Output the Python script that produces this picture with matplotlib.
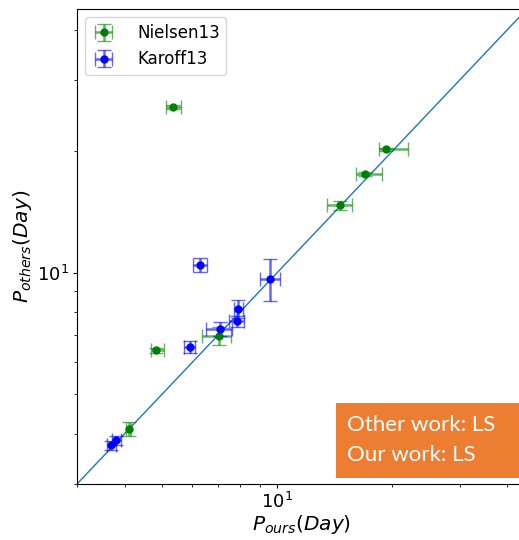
from matplotlib import pyplot as plt
from matplotlib.patches import Rectangle

import numpy as np

# Periods (days): ours vs others, with error bars
nielsen_ours = [5.34, 19.3, 17.0, 14.6, 4.84, 7.05, 4.10]
nielsen_ours_lo = [0.22, 0.8, 0.9, 1.1, 0.15, 0.67, 0.06]
nielsen_ours_hi = [0.26, 2.7, 1.8, 1.1, 0.22, 0.53, 0.06]
nielsen_others = [25.8, 20.2, 17.6, 14.7, 6.43, 6.99, 4.11]
nielsen_others_err = [0.3, 0.2, 0.2, 0.4, 0.1, 0.37, 0.16]

karoff_ours = [6.30, 9.60, 7.92, 7.85, 7.08, 5.91, 3.80, 3.69]
karoff_ours_err = [0.26, 0.6, 0.22, 0.35, 0.55, 0.2, 0.1, 0.1]
karoff_others = [10.47, 9.66, 8.15, 7.58, 7.26, 6.55, 3.85, 3.74]
karoff_others_err = [0.4, 1.15, 0.4, 0.25, 0.3, 0.23, 0.1, 0.1]

lims = [3, 45]
box_text = "Other work: LS\nOur work: LS"

fig = plt.figure(figsize=(5.19, 5.40), dpi=100)
ax = fig.add_axes([77 / 519, 56 / 540, 450 / 519, 475 / 540])

# one-to-one line
ax.plot(lims, lims, color='C0', lw=1)

ax.errorbar(nielsen_ours, nielsen_others,
            xerr=[nielsen_ours_lo, nielsen_ours_hi], yerr=nielsen_others_err,
            fmt='o', color='green', ms=5, ecolor=(0, 0.5, 0, 0.6),
            elinewidth=1.8, capsize=5, label='Nielsen13')
ax.errorbar(karoff_ours, karoff_others,
            xerr=karoff_ours_err, yerr=karoff_others_err,
            fmt='o', color='blue', ms=5, ecolor=(0, 0, 1, 0.6),
            elinewidth=1.8, capsize=5, label='Karoff13')

ax.set_xscale('log'); ax.set_yscale('log')
ax.set_xlim(lims); ax.set_ylim(lims)
ax.tick_params(which='major', labelsize=13, length=3, pad=3)
ax.tick_params(which='minor', length=2)
ax.set_xlabel('$P_{ours}(Day)$', fontsize=14.5, labelpad=0.5)
ax.set_ylabel('$P_{others}(Day)$', fontsize=14.5, labelpad=2)
ax.legend(loc='upper left', fontsize=12, handlelength=1.4, handletextpad=1.3)

# annotation box on top of the axes
fig.patches.append(Rectangle((336 / 519, 62 / 540), 0.4, 75 / 540,
                             transform=fig.transFigure, facecolor='#ED7D31',
                             edgecolor='none', zorder=5))
fig.text(347 / 519, 100 / 540, box_text, color='white', fontsize=16,
         family=['Lato', 'DejaVu Sans'], va='center', ha='left',
         linespacing=1.65, zorder=6)

fig.savefig('out.png', dpi=100)
